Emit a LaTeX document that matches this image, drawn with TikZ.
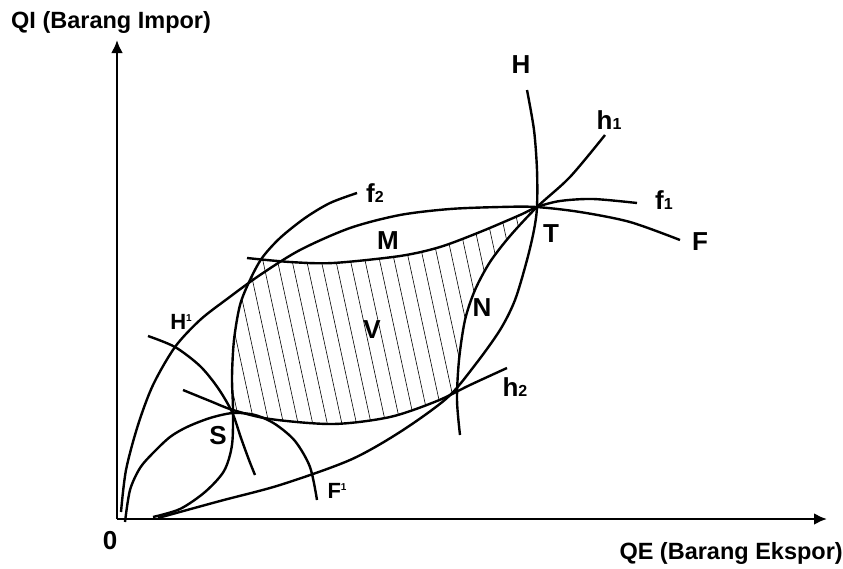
\documentclass[tikz,border=0pt]{standalone}
\usepackage{fontspec}
\setmainfont{Liberation Sans}
\usetikzlibrary{arrows.meta}
\begin{document}
\begin{tikzpicture}[x=1pt,y=-1pt,
  curve/.style={line width=2.4pt, line join=round},
  axis/.style={line width=2.6pt, -{Latex[length=13pt,width=12pt]}},
  hatchline/.style={line width=0.6pt},
  lab/.style={font=\fontsize{26}{26}\selectfont\bfseries, inner sep=0pt},
  axlab/.style={font=\fontsize{23.5}{24}\selectfont\bfseries, inner sep=0pt},
]
\path[use as bounding box] (0,0) rectangle (843,568);
\def\cF{plot[smooth] coordinates {(121,512) (126,470) (138,425) (153,385) (175,347) (200,320) (227,299) (260,275) (300,250) (350,228) (400,215) (450,209) (500,207) (536,207) (580,212) (630,222) (680,240)}}
\def\cH{plot[smooth] coordinates {(158,518) (220,501) (280,485) (350,460) (400,432) (447,398) (475,365) (500,330) (515,300) (527,260) (534,230) (537,207) (537,170) (534,130) (527,90)}}
\def\cfOne{plot[smooth] coordinates {(247,258) (290,262) (333,263) (400,256) (440,247) (480,232) (520,215) (537,207) (560,201) (593,199) (637,203)}}
\def\chOne{plot[smooth] coordinates {(460,435) (457,400) (459,360) (465,320) (475,290) (490,262) (510,236) (537,207) (570,177) (605,135)}}
\def\cfTwo{plot[smooth] coordinates {(153,517) (180,509) (205,492) (224,471) (232,445) (233,410) (232,377) (234,340) (240,305) (250,280) (262,258) (280,238) (305,218) (330,203) (357,193)}}
\def\chTwo{plot[smooth] coordinates {(183,390) (210,401) (233,410) (270,419) (333,424) (390,417) (437,401) (470,385) (507,368)}}
\def\cFp{plot[smooth] coordinates {(125,522) (130,490) (140,468) (153,453) (170,437) (187,427) (210,418) (233,413) (255,415) (275,424) (295,441) (310,467) (317,500)}}
\def\cHp{plot[smooth] coordinates {(148,336) (175,347) (200,366) (218,388) (232,412) (241,438) (249,460) (255,475)}}
\edef\lfOne{-- \cfOne}
\edef\lhOne{-- \chOne}
\edef\lfTwo{-- \cfTwo}
\edef\lhTwo{-- \chTwo}

% hatched region V
\begin{scope}
  \clip (153,600) \lfTwo -- (900,193) -- (900,600) -- cycle;
  \clip (100,258) \lfOne -- (700,203) -- (700,600) -- (100,600) -- cycle;
  \clip (460,600) \lhOne -- (605,100) -- (100,100) -- (100,600) -- cycle;
  \clip (100,390) \lhTwo -- (700,368) -- (700,100) -- (100,100) -- cycle;
  \foreach \k in {-12,...,26}
    \draw[hatchline] ({282.8+14.6*\k},150) -- ({347.6+14.6*\k},450);
\end{scope}

% axes
\coordinate (O) at (117,519);
\coordinate (ytip) at (117,40);
\coordinate (xtip) at (827,519);
\draw[axis] (O) -- (ytip);
\draw[axis] (O) -- (xtip);

% curves
\draw[curve] \cF;
\draw[curve] \cH;
\draw[curve] \cfOne;
\draw[curve] \chOne;
\draw[curve] \cfTwo;
\draw[curve] \chTwo;
\draw[curve] \cFp;
\draw[curve] \cHp;

% labels
\node[axlab, anchor=west] (qi) at (11,22) {QI (Barang Impor)};
\node[axlab, anchor=east] (qe) at (843,553) {QE (Barang Ekspor)};
\node[lab] (zero) at (110,541) {0};
\node[lab] (lH) at (521,65) {H};
\node[lab] (lhone) at (609,120) {h{\fontsize{16}{16}\selectfont 1}};
\node[lab] (lfone) at (664,200) {f{\fontsize{16}{16}\selectfont 1}};
\node[lab] (lF) at (700,242) {F};
\node[lab] (lT) at (551,234) {T};
\node[lab] (lM) at (388,241) {M};
\node[lab] (lN) at (482,308) {N};
\node[lab] (lV) at (372,330) {V};
\node[lab] (lftwo) at (375,193) {f{\fontsize{16}{16}\selectfont 2}};
\node[lab] (lhtwo) at (515,387) {h{\fontsize{16}{16}\selectfont 2}};
\node[lab] (lS) at (218,436) {S};
\node[lab, font=\fontsize{22}{22}\selectfont\bfseries] (lHp) at (181,322) {H\raisebox{8pt}{\fontsize{10}{10}\selectfont 1}};
\node[lab, font=\fontsize{22}{22}\selectfont\bfseries] (lFp) at (337,491) {F\raisebox{8pt}{\fontsize{10}{10}\selectfont 1}};
\end{tikzpicture}
\end{document}
